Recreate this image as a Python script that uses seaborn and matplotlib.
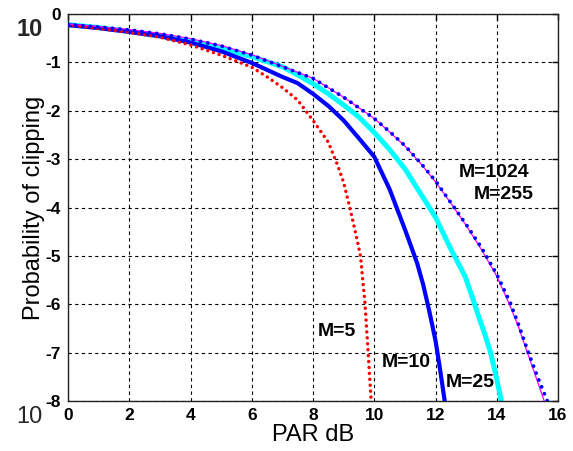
import numpy as np
import pandas as pd
import matplotlib
matplotlib.use("Agg")
import matplotlib.pyplot as plt
from matplotlib.ticker import NullLocator
import seaborn as sns

# ---- data (PAR in dB, log10 of clipping probability) ----
x_m5 = [0, 1, 2, 3, 4, 5, 6, 6.5, 7, 7.5, 8, 8.5, 8.8, 9.0, 9.2, 9.4, 9.55, 9.7, 9.8, 9.9]
e_m5 = [-0.23, -0.30, -0.38, -0.48, -0.64, -0.85, -1.10, -1.30, -1.52, -1.78, -2.20,
        -2.65, -3.12, -3.48, -4.0, -4.55, -5.0, -6.0, -7.0, -8.0]

x_m10 = [0, 1, 2, 3, 4, 5, 6, 7, 7.5, 8, 8.5, 9, 9.5, 10, 10.5, 11, 11.2, 11.4, 11.6,
         11.8, 12.0, 12.15, 12.3]
e_m10 = [-0.23, -0.29, -0.37, -0.46, -0.59, -0.77, -1.01, -1.30, -1.43, -1.65, -1.90,
         -2.20, -2.57, -2.95, -3.62, -4.45, -4.80, -5.15, -5.60, -6.15, -6.75, -7.35, -8.0]

x_m25 = [0, 1, 2, 3, 4, 5, 6, 7, 7.5, 8, 8.5, 9, 9.5, 10, 10.5, 11, 11.5, 12, 12.5,
         12.7, 12.97, 13.2, 13.37, 13.6, 13.8, 14.0, 14.15]
e_m25 = [-0.22, -0.28, -0.36, -0.45, -0.57, -0.71, -0.88, -1.09, -1.26, -1.44, -1.65,
         -1.88, -2.13, -2.45, -2.80, -3.20, -3.70, -4.20, -4.86, -5.10, -5.43, -5.85,
         -6.18, -6.60, -7.00, -7.55, -8.0]

x_m255 = [0, 1, 2, 3, 4, 5, 6, 7, 8, 9, 10, 10.5, 11, 11.5, 12, 12.5, 13, 13.5, 14,
          14.4, 14.7, 15.0, 15.25, 15.55]
e_m255 = [-0.21, -0.26, -0.32, -0.40, -0.51, -0.65, -0.84, -1.08, -1.33, -1.72, -2.16,
          -2.44, -2.73, -3.08, -3.47, -3.91, -4.37, -4.87, -5.42, -5.98, -6.45, -7.0,
          -7.45, -8.0]

x_m1024 = [0, 1, 2, 3, 4, 5, 6, 7, 8, 9, 10, 10.5, 11, 11.5, 12, 12.5, 13, 13.5, 14,
           14.44, 14.7, 15.0, 15.3, 15.65]
e_m1024 = [-0.22, -0.27, -0.33, -0.41, -0.52, -0.66, -0.85, -1.09, -1.33, -1.72, -2.16,
           -2.43, -2.72, -3.07, -3.45, -3.90, -4.35, -4.83, -5.38, -5.97, -6.40, -6.94,
           -7.45, -8.0]

labels = ["M=5", "M=10", "M=25", "M=255", "M=1024"]
label_x = [8.14, 10.26, 12.32, 13.24, 12.75]
label_e = [-6.57, -7.21, -7.62, -3.74, -3.285]

y_exponents = [0, -1, -2, -3, -4, -5, -6, -7, -8]
y_ticklabels = ["0", "-1", "-2", "-3", "-4", "-5", "-6", "-7", "-8"]
x_ticks = [0, 2, 4, 6, 8, 10, 12, 14, 16]

# ---- style ----
sns.set_theme(style="white")
plt.rcParams["font.family"] = ["Liberation Sans", "DejaVu Sans"]

W, H = 573, 451
fig = plt.figure(figsize=(W / 100, H / 100), dpi=100)
ax = fig.add_axes([68 / W, 50 / H, 490 / W, 387 / H])

def df_of(xs, es):
    return pd.DataFrame({"x": xs, "p": np.power(10.0, es)})

sns.lineplot(data=df_of(x_m25, e_m25), x="x", y="p", ax=ax, color="#00FFFF",
             lw=3.6, estimator=None, zorder=2)
sns.lineplot(data=df_of(x_m10, e_m10), x="x", y="p", ax=ax, color="#0000FF",
             lw=3.0, estimator=None, zorder=3)
sns.lineplot(data=df_of(x_m5, e_m5), x="x", y="p", ax=ax, color="#FF0000",
             lw=2.5, linestyle=(0, (0.01, 1.7)), dash_capstyle="round",
             estimator=None, zorder=4)
sns.lineplot(data=df_of(x_m255, e_m255), x="x", y="p", ax=ax, color="#FF00FF",
             lw=0.9, estimator=None, zorder=5)
sns.lineplot(data=df_of(x_m1024, e_m1024), x="x", y="p", ax=ax, color="#0000FF",
             lw=2.8, linestyle=(0, (0.01, 1.9)), dash_capstyle="round",
             estimator=None, zorder=6)

ax.set_yscale("log")
ax.set_xlim(0, 16)
ax.set_ylim(1e-8, 1e0)
ax.set_xticks(x_ticks)
ax.set_xticklabels([str(t) for t in x_ticks])
ax.set_yticks([10.0 ** e for e in y_exponents])
ax.set_yticklabels(y_ticklabels)
ax.yaxis.set_minor_locator(NullLocator())

for lab in ax.get_xticklabels() + ax.get_yticklabels():
    lab.set_fontweight("bold")
    lab.set_fontsize(12.5)
    lab.set_color("black")

ax.tick_params(axis="both", which="major", direction="in", length=4, width=1,
               color="black", top=True, right=True, pad=5)

ax.grid(True, which="major", color="black", linestyle=(0, (3, 3)), linewidth=0.8)
for s in ax.spines.values():
    s.set_visible(True)
    s.set_color("#222222")
    s.set_linewidth(1.0)

ax.set_xlabel("PAR dB", fontsize=17, color="black")
ax.set_ylabel("Probability of clipping", fontsize=17, color="black")
ax.xaxis.set_label_coords(0.5, (401 - 424) / 387)
ax.yaxis.set_label_coords((45 - 68) / 490, 0.5)

for t, xx, ee in zip(labels, label_x, label_e):
    ax.text(xx, 10.0 ** ee, t, fontsize=14, fontweight="bold", ha="left", va="center",
            color="black", zorder=10)

# MATLAB-style base "10" next to first and last tick labels
fig.text(43 / W, 1 - 29 / H, "10", fontsize=17, fontweight="bold", ha="right", va="center")
fig.text(43 / W, 1 - 417 / H, "10", fontsize=17, ha="right", va="center")

fig.savefig("out.png", dpi=100)
